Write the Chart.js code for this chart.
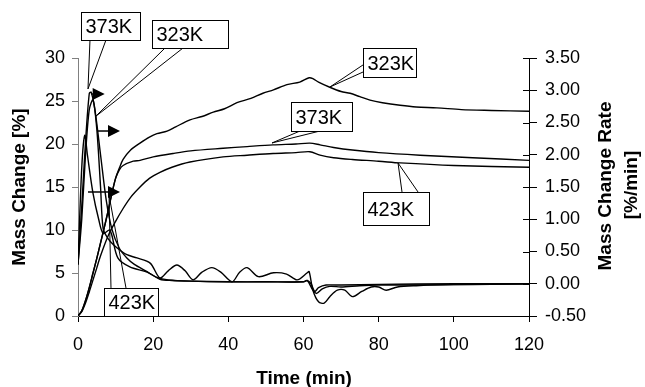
<!DOCTYPE html>
<html>
<head>
<meta charset="utf-8">
<script src="https://cdn.jsdelivr.net/npm/chart.js@4"></script>
<style>
  html, body { margin: 0; padding: 0; background: #fff; }
  #wrap { width: 645px; height: 387px; }
</style>
</head>
<body>
<div id="wrap"><canvas id="chart" width="645" height="387"></canvas></div>
<script>

// mass change [%] vs time (min)
var tMass323 = [0, 1, 2, 3, 4, 5, 6, 7, 8, 9, 10, 11, 12, 14, 16.5, 19, 21, 23.7, 26, 29.8, 33, 36, 39, 42.3, 46, 49.2, 52, 55.6, 59, 61.5, 62.5, 64, 67, 70, 72.4, 75, 77.7, 81, 85.7, 90, 95.5, 102, 110, 120];
var mass323  = [0, 0.6, 1.8, 3.3, 5, 6.7, 8.5, 10.3, 12.2, 14.2, 16, 17.2, 18.2, 19.3, 20.1, 20.8, 21.2, 21.5, 22, 22.8, 23.2, 23.7, 24.1, 24.8, 25.3, 25.9, 26.3, 26.9, 27.2, 27.7, 27.6, 27.2, 26.6, 26.1, 25.9, 25.5, 25.1, 24.8, 24.5, 24.3, 24.2, 24.0, 23.9, 23.8];

var tMass373 = [0, 1, 2, 3, 4, 5, 6, 7, 8, 9, 10, 11, 12, 14.7, 16.5, 20, 25.3, 30, 38.6, 45, 51.9, 58, 61.7, 64.4, 68, 73, 80, 91, 105, 120];
var mass373  = [0, 0.6, 1.8, 3.3, 5, 6.7, 8.5, 10.3, 12.2, 14.2, 16, 17, 17.5, 18, 18.1, 18.5, 18.9, 19.2, 19.5, 19.7, 19.9, 20.0, 20.1, 19.9, 19.6, 19.3, 19.0, 18.7, 18.4, 18.1];

var tMass423 = [0, 1, 2, 3, 4, 5, 6, 8, 10, 12, 14, 16.5, 19, 21.8, 25, 29.8, 38.6, 45, 51.9, 58, 61.7, 64.4, 68, 73, 80, 85.7, 100, 120];
var mass423  = [0, 0.5, 1.5, 2.8, 4.2, 5.6, 7, 9.3, 11, 12.5, 13.8, 15, 16, 16.7, 17.3, 17.9, 18.5, 18.7, 18.9, 19.0, 19.1, 18.7, 18.4, 18.2, 18.0, 17.8, 17.5, 17.3];

// mass change rate [%/min] vs time (min)
var tRate323 = [0, 1, 2, 3, 4, 5, 6, 6.7, 8, 9.5, 11.2, 13, 15.7, 19.2, 21.8, 24, 26.3, 28.5, 30.6, 33, 35.6, 38, 41, 43, 45, 48, 52, 55.5, 58.3, 61, 61.5, 62.5, 64, 65.5, 67, 69, 71, 73, 75.5, 78, 80, 82, 85, 90, 100, 120];
var rate323  = [0.3, 1.0, 2.0, 2.7, 2.85, 2.4, 1.5, 0.85, 0.7, 0.6, 0.52, 0.45, 0.40, 0.32, 0.09, 0.2, 0.29, 0.2, 0.06, 0.18, 0.25, 0.18, 0.03, 0.18, 0.25, 0.11, 0.17, 0.15, 0.06, 0.17, 0.19, -0.1, -0.28, -0.3, -0.2, -0.1, -0.1, -0.2, -0.12, -0.05, -0.05, -0.1, -0.05, -0.03, -0.01, 0];

var tRate373 = [0, 1, 2, 3, 3.5, 4.5, 6, 7.5, 9, 11, 13, 15, 18, 21, 24, 30, 40, 50, 60, 61, 62, 63, 64, 66, 70, 80, 100, 120];
var rate373  = [0.3, 1.2, 2.2, 2.95, 2.97, 2.7, 2.0, 1.3, 0.85, 0.55, 0.4, 0.3, 0.2, 0.1, 0.06, 0.04, 0.03, 0.03, 0.03, 0.05, 0, -0.12, -0.06, -0.02, -0.02, -0.01, 0, 0];

var tRate423 = [0, 1, 1.8, 2.5, 4, 5.5, 6.7, 8.5, 10.6, 13.8, 18.4, 21.8, 25, 30, 40, 50, 60, 61, 62.5, 63.5, 65, 67, 70, 75, 80, 90, 120];
var rate423  = [0.3, 1.8, 2.3, 2.0, 1.4, 1.0, 0.78, 0.83, 0.40, 0.26, 0.18, 0.07, 0.05, 0.04, 0.03, 0.03, 0.03, 0.05, -0.1, -0.15, -0.08, -0.04, -0.05, -0.03, -0.02, -0.02, 0];

var xTicks = [0, 20, 40, 60, 80, 100, 120];
var massTicks = [0, 5, 10, 15, 20, 25, 30];
var rateTicks = [-0.5, 0, 0.5, 1, 1.5, 2, 2.5, 3, 3.5];

// callouts: box corners, leader bases and tip in data units (time, mass %)
var callouts = [
	{ text: '373K', box: [0.8, 16.5, 32.1, 35.35], bases: [[3.19, 32.1], [7.45, 32.1]], tip: [2.66, 26.4] },
	{ text: '323K', box: [19.69, 39.91, 31.16, 34.42], bases: [[23.15, 31.16], [27.94, 31.16]], tip: [4.52, 23.14] },
	{ text: '323K', box: [75.83, 89.93, 27.79, 31.16], bases: [[75.83, 29.19], [75.83, 28.37]], tip: [67.05, 26.63] },
	{ text: '373K', box: [56.68, 72.91, 21.51, 24.88], bases: [[59.07, 21.51], [64.39, 21.51]], tip: [51.62, 20.12] },
	{ text: '423K', box: [75.83, 93.39, 10.58, 14.42], bases: [[86.21, 14.42], [90.47, 14.42]], tip: [85.15, 17.79] },
	{ text: '423K', box: [6.92, 21.29, 0.05, 3.26], bases: [[8.78, 3.26], [12.77, 3.26]], tip: [8.25, 14.07] }
];

var arrows = [
	{ from: [3.73, 25.81], to: [7.1, 25.81] },
	{ from: [5.06, 21.51], to: [11.18, 21.51] },
	{ from: [2.66, 14.42], to: [11.18, 14.42] }
];

var FONT = "'Liberation Sans', Arial, sans-serif";

function pts(xs, ys){
	var out = [];
	for (var i = 0; i < xs.length; i++) { out.push({ x: xs[i], y: ys[i] }); }
	return out;
}

function line(data, axis){
	return {
		data: data,
		yAxisID: axis,
		borderColor: '#000',
		borderWidth: 1.4,
		pointRadius: 0,
		fill: false,
		tension: 0.3
	};
}

var decorPlugin = {
	id: 'decor',
	afterDatasetsDraw: function(chart){
		var ctx = chart.ctx;
		var sx = chart.scales.x, sy = chart.scales.y;
		function X(v){ return sx.getPixelForValue(v); }
		function Y(v){ return sy.getPixelForValue(v); }

		ctx.save();
		ctx.strokeStyle = '#000';
		ctx.fillStyle = '#000';
		ctx.lineWidth = 1;

		// inner half of right-axis ticks
		var s2 = chart.scales.y2;
		rateTicks.forEach(function(v){
			var py = Math.round(s2.getPixelForValue(v)) + 0.5;
			ctx.beginPath();
			ctx.moveTo(s2.left - 6, py);
			ctx.lineTo(s2.left, py);
			ctx.stroke();
		});

		// arrows
		arrows.forEach(function(a){
			var x0 = X(a.from[0]), x1 = X(a.to[0]), py = Y(a.from[1]);
			ctx.lineWidth = 1.5;
			ctx.beginPath();
			ctx.moveTo(x0, py);
			ctx.lineTo(x1 - 10, py);
			ctx.stroke();
			ctx.beginPath();
			ctx.moveTo(x1, py);
			ctx.lineTo(x1 - 12, py - 6);
			ctx.lineTo(x1 - 12, py + 6);
			ctx.closePath();
			ctx.fill();
		});

		// callouts
		ctx.lineWidth = 1;
		ctx.font = '20px ' + FONT;
		ctx.textBaseline = 'middle';
		ctx.textAlign = 'left';
		callouts.forEach(function(c){
			var tx = X(c.tip[0]), ty = Y(c.tip[1]);
			ctx.beginPath();
			c.bases.forEach(function(b){
				ctx.moveTo(X(b[0]), Y(b[1]));
				ctx.lineTo(tx, ty);
			});
			ctx.stroke();
			var l = Math.round(X(c.box[0])) + 0.5, r = Math.round(X(c.box[1])) + 0.5;
			var b = Math.round(Y(c.box[2])) + 0.5, t = Math.round(Y(c.box[3])) + 0.5;
			ctx.fillStyle = '#fff';
			ctx.fillRect(l, t, r - l, b - t);
			ctx.strokeRect(l, t, r - l, b - t);
			ctx.fillStyle = '#000';
			ctx.fillText(c.text, l + 4, (t + b) / 2 + 1);
		});

		// axis titles
		ctx.font = 'bold 19px ' + FONT;
		ctx.textAlign = 'center';
		ctx.fillText('Time (min)', 304, 379);

		ctx.save();
		ctx.translate(20, 187);
		ctx.rotate(-Math.PI / 2);
		ctx.fillText('Mass Change [%]', 0, 0);
		ctx.restore();

		ctx.save();
		ctx.translate(606, 186);
		ctx.rotate(-Math.PI / 2);
		ctx.fillText('Mass Change Rate', 0, 0);
		ctx.restore();

		ctx.save();
		ctx.translate(632, 185);
		ctx.rotate(-Math.PI / 2);
		ctx.fillText('[%/min]', 0, 0);
		ctx.restore();

		ctx.restore();
	}
};

var tickFont = { family: FONT, size: 18 };

var chart_settings = {
	type: 'line',
	data: {
		datasets: [
			line(pts(tMass323, mass323), 'y'),
			line(pts(tMass373, mass373), 'y'),
			line(pts(tMass423, mass423), 'y'),
			line(pts(tRate323, rate323), 'y2'),
			line(pts(tRate373, rate373), 'y2'),
			line(pts(tRate423, rate423), 'y2')
		]
	},
	options: {
		responsive: false,
		animation: false,
		layout: { padding: { top: 58, left: 0, right: 0, bottom: 0 } },
		plugins: { legend: { display: false }, tooltip: { enabled: false } },
		scales: {
			x: {
				type: 'linear',
				min: 0, max: 120,
				afterBuildTicks: function(s){ s.ticks = xTicks.map(function(v){ return { value: v }; }); },
				afterFit: function(s){ s.height = 71; },
				ticks: { color: '#000', font: tickFont, padding: 12, maxRotation: 0 },
				grid: { display: true, drawOnChartArea: false, drawTicks: true, tickLength: 6, color: '#000' },
				border: { color: '#000', width: 1 }
			},
			y: {
				position: 'left',
				min: 0, max: 30,
				afterBuildTicks: function(s){ s.ticks = massTicks.map(function(v){ return { value: v }; }); },
				afterFit: function(s){ s.width = 78; },
				ticks: { color: '#000', font: tickFont, padding: 7 },
				grid: { display: true, drawOnChartArea: false, drawTicks: true, tickLength: 6, color: '#808080' },
				border: { color: '#808080', width: 1 }
			},
			y2: {
				position: 'right',
				min: -0.5, max: 3.5,
				afterBuildTicks: function(s){ s.ticks = rateTicks.map(function(v){ return { value: v }; }); },
				afterFit: function(s){ s.width = 116; },
				ticks: {
					color: '#000', font: tickFont, padding: 8,
					callback: function(v){ return Number(v).toFixed(2); }
				},
				grid: { display: true, drawOnChartArea: false, drawTicks: true, tickLength: 8, color: '#000' },
				border: { color: '#000', width: 1 }
			}
		}
	},
	plugins: [decorPlugin]
};

var chart_element = document.getElementById('chart');
var chart_main = new Chart(chart_element, chart_settings);

</script>
</body>
</html>
